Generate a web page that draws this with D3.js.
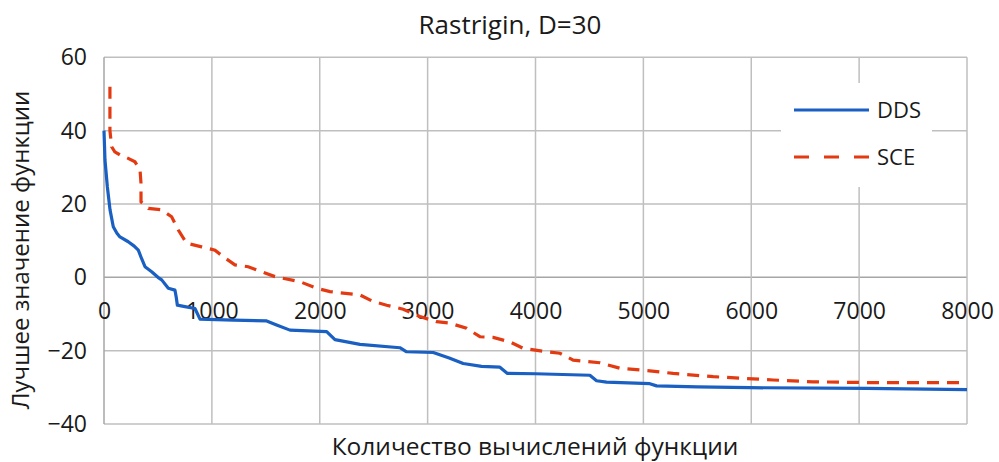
<!DOCTYPE html>
<html>
<head>
<meta charset="utf-8">
<script src="https://cdn.jsdelivr.net/npm/d3@7"></script>
<style>
  html, body { margin: 0; padding: 0; background: #fff; }
  svg { display: block; }
  text { font-family: "Open Sans", "Noto Sans", sans-serif; fill: #1a1a1a; }
</style>
</head>
<body>
<svg id="chart" width="999" height="462"></svg>
<script>
// ---- data ----
const title = "Rastrigin, D=30";
const xLabel = "Количество вычислений функции";
const yLabel = "Лучшее значение функции";
const seriesNames = ["DDS", "SCE"];
const xTicks = [0, 1000, 2000, 3000, 4000, 5000, 6000, 7000, 8000];
const yTicks = [-40, -20, 0, 20, 40, 60];

const ddsX = [0, 9, 31, 56, 86, 120, 148, 225, 280, 318, 350, 380, 442, 500, 535, 596, 658, 670, 680, 750, 843, 890, 1200, 1508, 1600, 1724, 2064, 2141, 2373, 2743, 2805, 3052, 3200, 3330, 3500, 3670, 3740, 4000, 4504, 4566, 4659, 5060, 5122, 5500, 5987, 7068, 8000];
const ddsY = [40, 32, 24.7, 18.4, 13.8, 12, 11, 9.7, 8.5, 7.4, 5, 2.9, 1.5, 0, -0.7, -3, -3.5, -5.5, -7.6, -8, -8.5, -11.4, -11.7, -11.9, -13, -14.4, -14.8, -17, -18.3, -19.2, -20.3, -20.5, -22, -23.5, -24.3, -24.5, -26.2, -26.3, -26.7, -28.2, -28.6, -29, -29.6, -29.9, -30.1, -30.3, -30.6];

const sceX = [55, 55, 71, 100, 148, 220, 287, 334, 343, 343, 411, 535, 627, 689, 766, 905, 1029, 1106, 1214, 1337, 1461, 1585, 1817, 1971, 2095, 2373, 2496, 2620, 2774, 2929, 3083, 3207, 3361, 3485, 3608, 3763, 3887, 4103, 4226, 4350, 4597, 4782, 5060, 5276, 5647, 5956, 6203, 6574, 7068, 8000];
const sceY = [52, 40, 35.6, 34.2, 33.4, 32.5, 31.5, 29.3, 25.6, 20.6, 18.8, 18.4, 16.5, 12.9, 9.3, 8.3, 7.4, 5.6, 3.4, 2.9, 1.5, 0.2, -1.2, -3, -3.9, -4.8, -6.6, -7.6, -8.7, -10.7, -12.1, -12.5, -13.9, -16.2, -16.4, -17.6, -19.4, -20.3, -20.7, -22.6, -23.3, -24.8, -25.5, -26.2, -27.1, -27.6, -28, -28.5, -28.7, -28.7];

// ---- layout ----
const svg = d3.select("#chart");
const x = d3.scaleLinear().domain([0, 8000]).range([104, 967]);
const y = d3.scaleLinear().domain([-40, 60]).range([424, 57.3]);

const colors = { DDS: "#1a5fc2", SCE: "#e43a12" };
const gridColor = "#bfbfbf";

// grid
const grid = svg.append("g");
grid.selectAll("line.h").data(yTicks).join("line")
  .attr("x1", x(0)).attr("x2", x(8000))
  .attr("y1", d => y(d)).attr("y2", d => y(d))
  .attr("stroke", d => d === 0 ? "#a6a6a6" : gridColor)
  .attr("stroke-width", 1.5);
grid.selectAll("line.v").data(xTicks).join("line")
  .attr("x1", d => x(d)).attr("x2", d => x(d))
  .attr("y1", y(60)).attr("y2", y(-40))
  .attr("stroke", d => d === 0 ? "#a6a6a6" : gridColor)
  .attr("stroke-width", 1.5);

// y axis labels
const yAxis = d3.axisLeft(y).tickValues(yTicks).tickSize(0).tickPadding(0)
  .tickFormat(d => d < 0 ? "\u2212" + Math.abs(d) : d);
const gy = svg.append("g").attr("transform", `translate(${x(0) - 17},0)`).call(yAxis);
gy.select(".domain").remove();
gy.selectAll("text").style("font-family", '"Open Sans", sans-serif').style("font-size", "23px").attr("fill", "#1a1a1a");

// x axis labels (at the zero line)
const xAxis = d3.axisBottom(x).tickValues(xTicks).tickSize(0).tickPadding(0).tickFormat(d3.format("d"));
const gx = svg.append("g").attr("transform", `translate(0,${y(0) + 25})`).call(xAxis);
gx.select(".domain").remove();
gx.selectAll("text").style("font-family", '"Open Sans", sans-serif').style("font-size", "23px").attr("fill", "#1a1a1a");

// lines
const line = d3.line().x(d => x(d[0])).y(d => y(d[1]));
const dds = ddsX.map((v, i) => [v, ddsY[i]]);
const sce = sceX.map((v, i) => [v, sceY[i]]);

svg.append("path").datum(sce).attr("d", line)
  .attr("fill", "none").attr("stroke", colors.SCE).attr("stroke-width", 3.2)
  .attr("stroke-dasharray", "12,8");
svg.append("path").datum(dds).attr("d", line)
  .attr("fill", "none").attr("stroke", colors.DDS).attr("stroke-width", 3.2)
  .attr("stroke-linejoin", "round");

// legend
const lg = svg.append("g");
lg.append("rect").attr("x", 781).attr("y", 83).attr("width", 151).attr("height", 104).attr("fill", "#fff");
seriesNames.forEach((name, i) => {
  const ly = 110 + i * 47;
  lg.append("line").attr("x1", 794).attr("x2", 869).attr("y1", ly).attr("y2", ly)
    .attr("stroke", colors[name]).attr("stroke-width", 3.2)
    .attr("stroke-dasharray", name === "SCE" ? "15,15" : null);
  lg.append("text").attr("x", 877).attr("y", ly).attr("dy", "0.35em")
    .style("font-size", "22px").text(name);
});

// title and axis titles
svg.append("text").attr("x", 510).attr("y", 34).attr("text-anchor", "middle")
  .style("font-size", "26px").text(title);
svg.append("text").attr("x", 535).attr("y", 455).attr("text-anchor", "middle")
  .style("font-size", "24.5px").text(xLabel);
svg.append("text").attr("transform", "translate(29,250) rotate(-90)").attr("text-anchor", "middle")
  .style("font-size", "24px").text(yLabel);
</script>
</body>
</html>
